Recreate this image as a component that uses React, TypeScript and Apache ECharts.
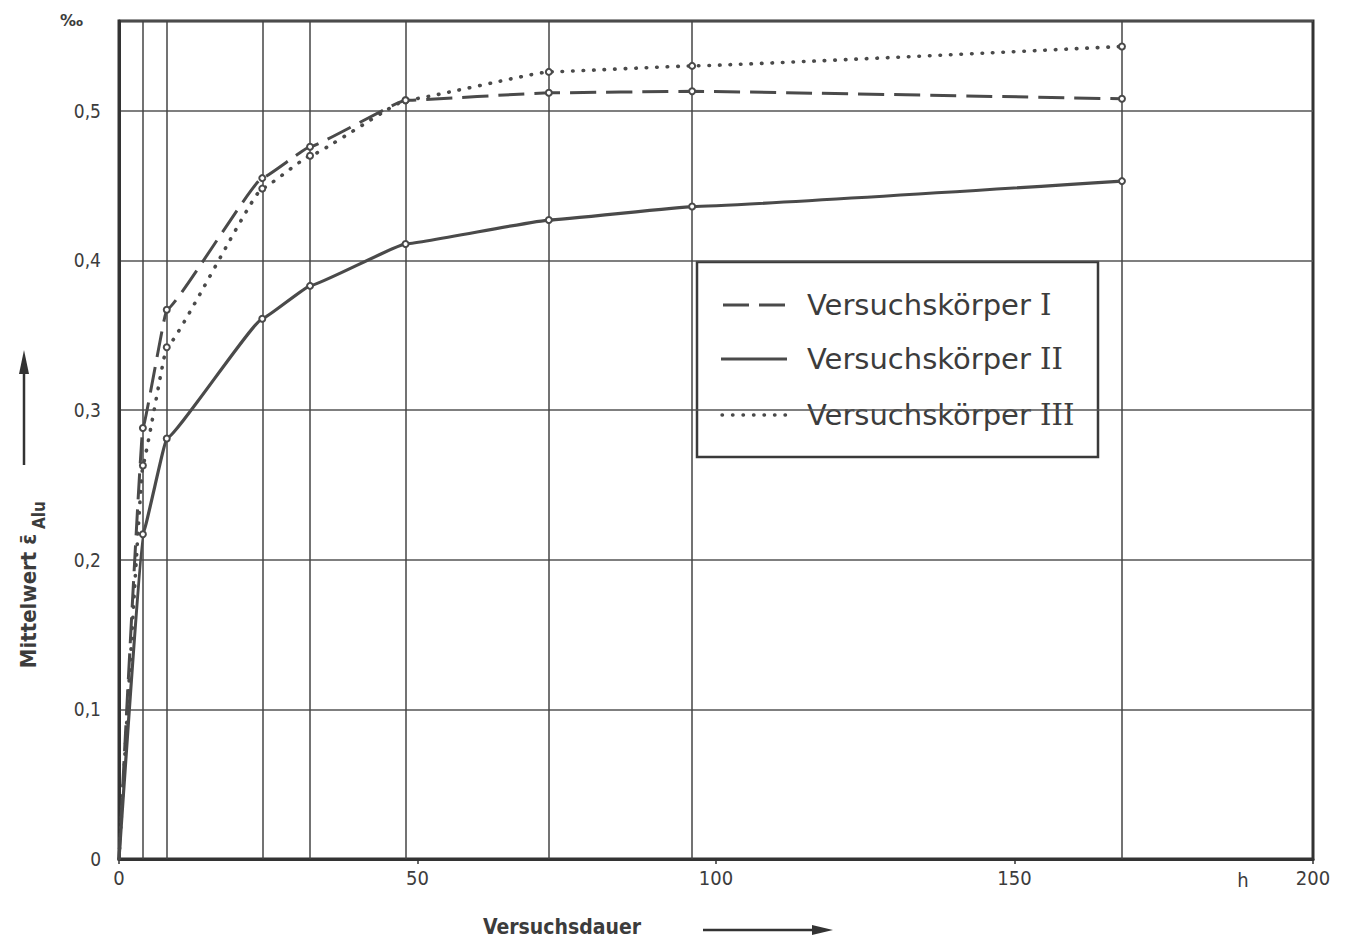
import React, { useEffect, useRef } from "react";
import * as echarts from "echarts";

const hours = [0, 4, 8, 24, 32, 48, 72, 96, 168];
const seriesI = [0, 0.288, 0.367, 0.455, 0.476, 0.507, 0.512, 0.513, 0.508];
const seriesII = [0, 0.217, 0.281, 0.361, 0.383, 0.411, 0.427, 0.436, 0.453];
const seriesIII = [0, 0.263, 0.342, 0.448, 0.47, 0.507, 0.526, 0.53, 0.543];
const gridHours = [4, 8, 24, 32, 48, 72, 96, 168];
const seriesNames = ["Versuchskörper I", "Versuchskörper II", "Versuchskörper III"];

const INK = "#3c3c3c";
const LINE = "#4a4a4a";

function build(values: number[]) {
  return hours.map((h, i) =>
    i === 0 ? { value: [h, values[i]], symbol: "none" } : { value: [h, values[i]] }
  );
}

export default function App() {
  const ref = useRef<HTMLDivElement>(null);
  useEffect(() => {
    if (!ref.current) return;
    const chart = echarts.init(ref.current, undefined, { renderer: "svg" });
    const common = {
      type: "line",
      smooth: 0.08,
      smoothMonotone: "x",
      symbol: "emptyCircle",
      symbolSize: 6,
      itemStyle: { color: LINE, borderColor: LINE, borderWidth: 1.6 },
      z: 3,
    };
    const condensed = "'DejaVu Sans Condensed', 'Liberation Sans Narrow', 'DejaVu Sans', sans-serif";
    chart.setOption({
      animation: false,
      backgroundColor: "#ffffff",
      grid: {
        left: 119,
        right: 34,
        top: 21,
        bottom: 79,
        show: true,
        borderColor: "#333",
        borderWidth: 3,
        backgroundColor: "transparent",
      },
      xAxis: {
        type: "value",
        min: 0,
        max: 200,
        interval: 50,
        axisLine: { show: true, lineStyle: { color: "#333", width: 3 } },
        axisTick: { show: true, length: 5, lineStyle: { color: "#333", width: 1.5 } },
        splitLine: { show: false },
        axisLabel: {
          color: INK,
          fontSize: 20,
          fontFamily: condensed,
          margin: 9,
        },
      },
      yAxis: {
        type: "value",
        min: 0,
        max: 0.56,
        interval: 0.1,
        axisLine: { show: true, lineStyle: { color: "#333", width: 3 } },
        axisTick: { show: false },
        splitLine: { show: true, lineStyle: { color: "#555", width: 1.5 } },
        axisLabel: {
          color: INK,
          fontSize: 19,
          fontFamily: condensed,
          margin: 18,
          showMaxLabel: false,
          formatter: (v: number) => (v === 0 ? "0" : v.toFixed(1).replace(".", ",")),
        },
      },
      series: [
        {
          ...common,
          name: seriesNames[0],
          data: build(seriesI),
          lineStyle: { color: LINE, width: 3, type: [26, 10] },
        },
        {
          ...common,
          name: seriesNames[1],
          data: build(seriesII),
          lineStyle: { color: LINE, width: 3.2, type: "solid" },
          markLine: {
            silent: true,
            symbol: ["none", "none"],
            label: { show: false },
            lineStyle: { color: "#444", width: 1.5, type: "solid" },
            z: 1,
            data: gridHours.map((h) => ({ xAxis: h })),
          },
        },
        {
          ...common,
          name: seriesNames[2],
          data: build(seriesIII),
          lineStyle: { color: LINE, width: 3.6, type: [0.5, 10], cap: "round" },
        },
      ],
      graphic: [
        {
          type: "text",
          left: 60,
          top: 12,
          style: { text: "‰", fill: INK, font: "bold 16px 'DejaVu Sans', sans-serif" },
        },
        {
          type: "text",
          x: 1243,
          y: 880,
          style: {
            text: "h",
            fill: INK,
            font: `20px ${condensed}`,
            textAlign: "center",
            textVerticalAlign: "middle",
          },
        },
        {
          type: "text",
          x: 28,
          y: 601,
          rotation: Math.PI / 2,
          style: {
            text: "Mittelwert ε̄",
            fill: INK,
            font: `bold 22px ${condensed}`,
            textAlign: "center",
            textVerticalAlign: "middle",
          },
        },
        {
          type: "text",
          x: 39,
          y: 515,
          rotation: Math.PI / 2,
          style: {
            text: "Alu",
            fill: INK,
            font: `bold 17px ${condensed}`,
            textAlign: "center",
            textVerticalAlign: "middle",
          },
        },
        {
          type: "line",
          shape: { x1: 24, y1: 465, x2: 24, y2: 368 },
          style: { stroke: "#333", lineWidth: 2.5 },
        },
        {
          type: "polygon",
          shape: { points: [[19, 374], [24, 350], [29, 374]] },
          style: { fill: "#333" },
        },
        {
          type: "text",
          x: 562,
          y: 927,
          style: {
            text: "Versuchsdauer",
            fill: INK,
            font: `bold 21px ${condensed}`,
            textAlign: "center",
            textVerticalAlign: "middle",
          },
        },
        {
          type: "line",
          shape: { x1: 703, y1: 930, x2: 815, y2: 930 },
          style: { stroke: "#333", lineWidth: 2.5 },
        },
        {
          type: "polygon",
          shape: { points: [[812, 925], [833, 930], [812, 935]] },
          style: { fill: "#333" },
        },
        {
          type: "group",
          x: 697,
          y: 262,
          z: 10,
          children: [
            {
              type: "rect",
              shape: { x: 0, y: 0, width: 401, height: 195 },
              style: { fill: "#fff", stroke: "#3a3a3a", lineWidth: 2.5 },
            },
            {
              type: "line",
              shape: { x1: 26, y1: 43, x2: 90, y2: 43 },
              style: { stroke: LINE, lineWidth: 3, lineDash: [26, 10] },
            },
            {
              type: "line",
              shape: { x1: 24, y1: 97, x2: 90, y2: 97 },
              style: { stroke: LINE, lineWidth: 3.2 },
            },
            {
              type: "line",
              shape: { x1: 25, y1: 153, x2: 90, y2: 153 },
              style: { stroke: LINE, lineWidth: 3.4, lineDash: [0.5, 10], lineCap: "round" },
            },
            ...seriesNames.map((n, i) => ({
              type: "text",
              x: 110,
              y: [43, 97, 153][i],
              style: {
                text: n.replace(/ (I+)$/, " {n|$1}"),
                fill: INK,
                font: "29px 'DejaVu Sans', sans-serif",
                textVerticalAlign: "middle",
                rich: {
                  n: { fontFamily: "'DejaVu Serif', serif", fontSize: 29, fill: INK },
                },
              },
            })),
          ],
        },
      ],
    });
    return () => chart.dispose();
  }, []);
  return (
    <div
      ref={ref}
      style={{ position: "fixed", left: 0, top: 0, width: 1347, height: 938 }}
    />
  );
}
